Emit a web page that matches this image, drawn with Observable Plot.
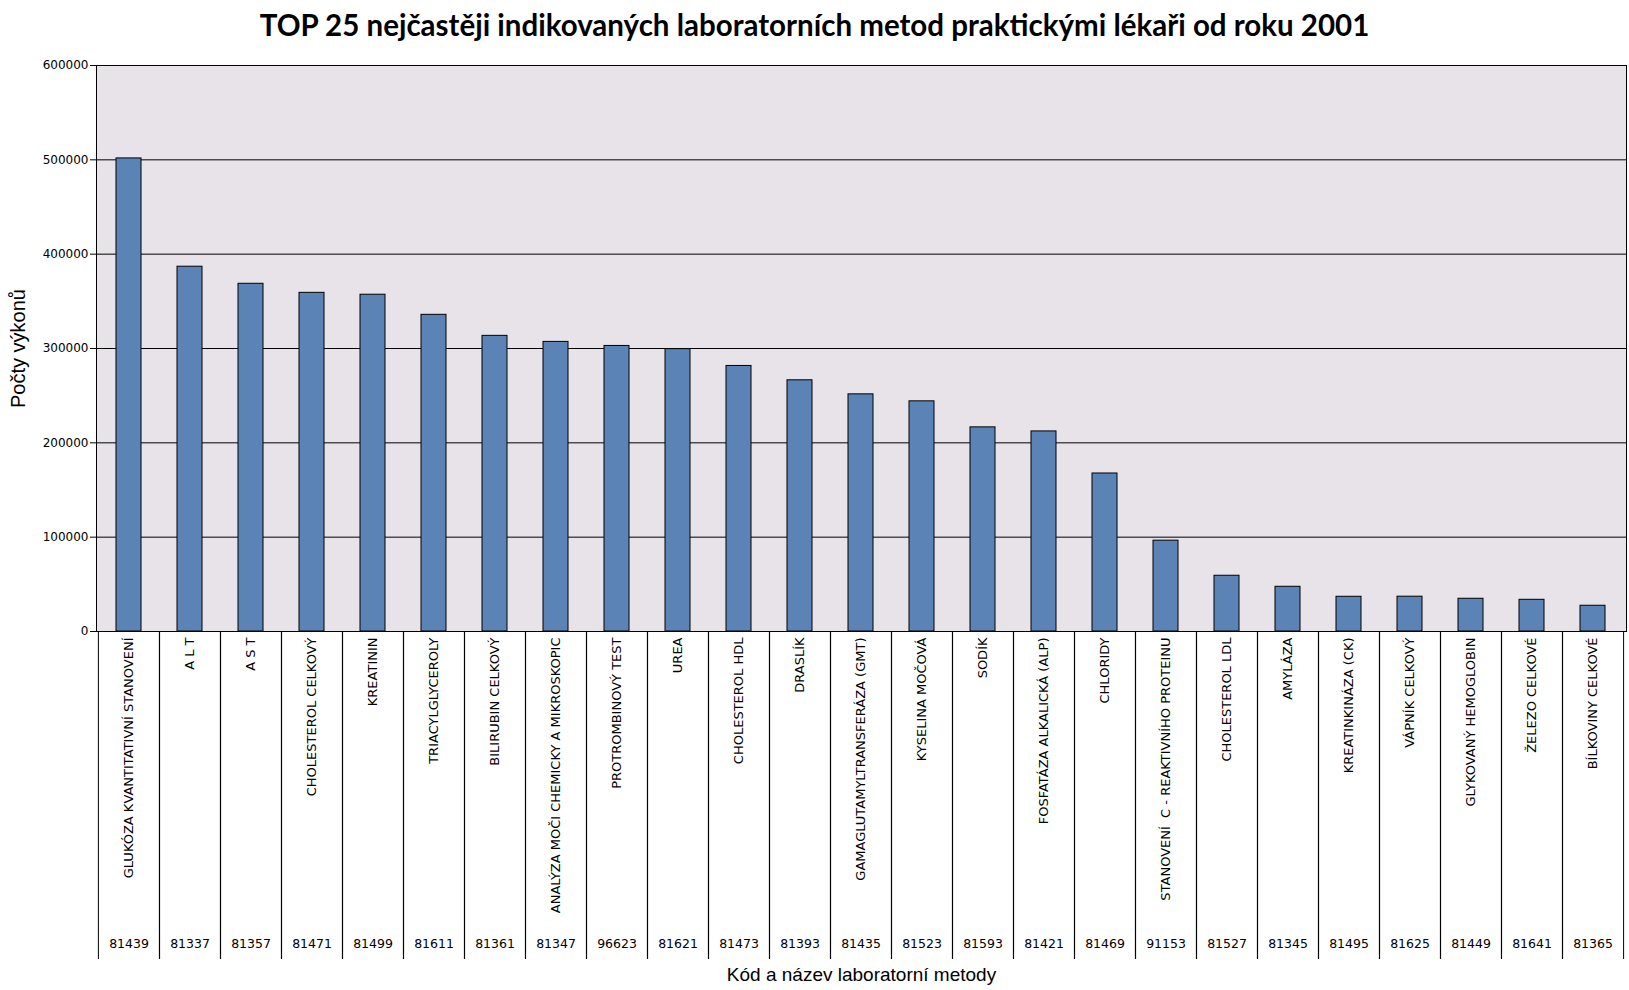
<!DOCTYPE html>
<html>
<head>
<meta charset="utf-8">
<script src="https://cdn.jsdelivr.net/npm/d3@7"></script>
<script src="https://cdn.jsdelivr.net/npm/@observablehq/plot@0.6"></script>
<style>
  html, body { margin: 0; padding: 0; background: white; }
  #title { width: 1629px; height: 50px; line-height: 50px; text-align: center;
    font-family: Lato, "Open Sans", sans-serif; font-weight: bold; font-size: 29.5px; color: #000; }
  #chart svg { display: block; overflow: visible; }
</style>
</head>
<body>
<div id="title">TOP 25 nejčastěji indikovaných laboratorních metod praktickými lékaři od roku 2001</div>
<div id="chart"></div>
<script>
const names = [
  "GLUKÓZA KVANTITATIVNÍ STANOVENÍ", "A L T", "A S T", "CHOLESTEROL CELKOVÝ", "KREATININ",
  "TRIACYLGLYCEROLY", "BILIRUBIN CELKOVÝ", "ANALÝZA MOČI CHEMICKY A MIKROSKOPIC", "PROTROMBINOVÝ TEST", "UREA",
  "CHOLESTEROL HDL", "DRASLÍK", "GAMAGLUTAMYLTRANSFERÁZA (GMT)", "KYSELINA MOČOVÁ", "SODÍK",
  "FOSFATÁZA ALKALICKÁ (ALP)", "CHLORIDY", "STANOVENÍ  C - REAKTIVNÍHO PROTEINU", "CHOLESTEROL LDL", "AMYLÁZA",
  "KREATINKINÁZA (CK)", "VÁPNÍK CELKOVÝ", "GLYKOVANÝ HEMOGLOBIN", "ŽELEZO CELKOVÉ", "BÍLKOVINY CELKOVÉ"
];
const codes = [
  "81439", "81337", "81357", "81471", "81499",
  "81611", "81361", "81347", "96623", "81621",
  "81473", "81393", "81435", "81523", "81593",
  "81421", "81469", "91153", "81527", "81345",
  "81495", "81625", "81449", "81641", "81365"
];
const values = [
  501500, 386700, 368600, 359000, 357000,
  335700, 313400, 307000, 302700, 299300,
  281500, 266300, 251400, 244000, 216400,
  212100, 167500, 96300, 59100, 47400,
  36800, 36900, 34700, 33600, 27300
];
const yTicks = [0, 100000, 200000, 300000, 400000, 500000, 600000];
const yTitle = "Počty výkonů";
const xTitle = "Kód a název laboratorní metody";

const rows = names.map((n, i) => ({name: n, code: codes[i], value: values[i]}));

const W = 1629, H = 940;
const mL = 96, mR = 3, mT = 15, mB = 359;
const step = (W - mL - mR) / names.length;

const chart = Plot.plot({
  width: W, height: H,
  marginLeft: mL, marginRight: mR, marginTop: mT, marginBottom: mB,
  style: {fontFamily: "DejaVu Sans", fontSize: "12px", background: "white", color: "black", overflow: "visible"},
  x: {type: "band", domain: names, paddingInner: 0.59, paddingOuter: 0.295, align: 0.5, axis: null, label: null},
  y: {domain: [0, 600000], axis: null, label: null},
  marks: [
    Plot.frame({fill: "#e7e3e8", stroke: null}),
    Plot.gridY(yTicks, {stroke: "black", strokeOpacity: 1, strokeWidth: 1}),
    Plot.barY(rows, {x: "name", y: "value", fill: "#5b83b6", stroke: "black", strokeWidth: 1}),
    Plot.frame({stroke: "black", strokeWidth: 1}),
    Plot.axisY(yTicks, {tickSize: 6, tickPadding: 2, tickFormat: d => String(d), label: null, fontSize: 12}),
    Plot.axisX({tickRotate: -90, tickSize: 0, tickPadding: 6, label: null, fontSize: 13}),
    Plot.axisX({tickSize: 328, tickFormat: () => "", fill: "none", stroke: "black", dx: -step / 2, label: null}),
    Plot.axisX({tickSize: 328, tickFormat: () => "", fill: "none", stroke: "black", dx: step / 2, label: null}),
    Plot.text(rows, {x: "name", text: "code", frameAnchor: "bottom", dy: 316, fontSize: 12.5}),
    Plot.text([xTitle], {text: d => d, frameAnchor: "bottom", dy: 349, fontSize: 19, fontFamily: "Liberation Sans"}),
    Plot.text([yTitle], {text: d => d, frameAnchor: "left", textAnchor: "middle", dx: -78, rotate: -90, fontSize: 20, fontFamily: "Liberation Sans"})
  ]
});
document.getElementById("chart").appendChild(chart);
</script>
</body>
</html>
